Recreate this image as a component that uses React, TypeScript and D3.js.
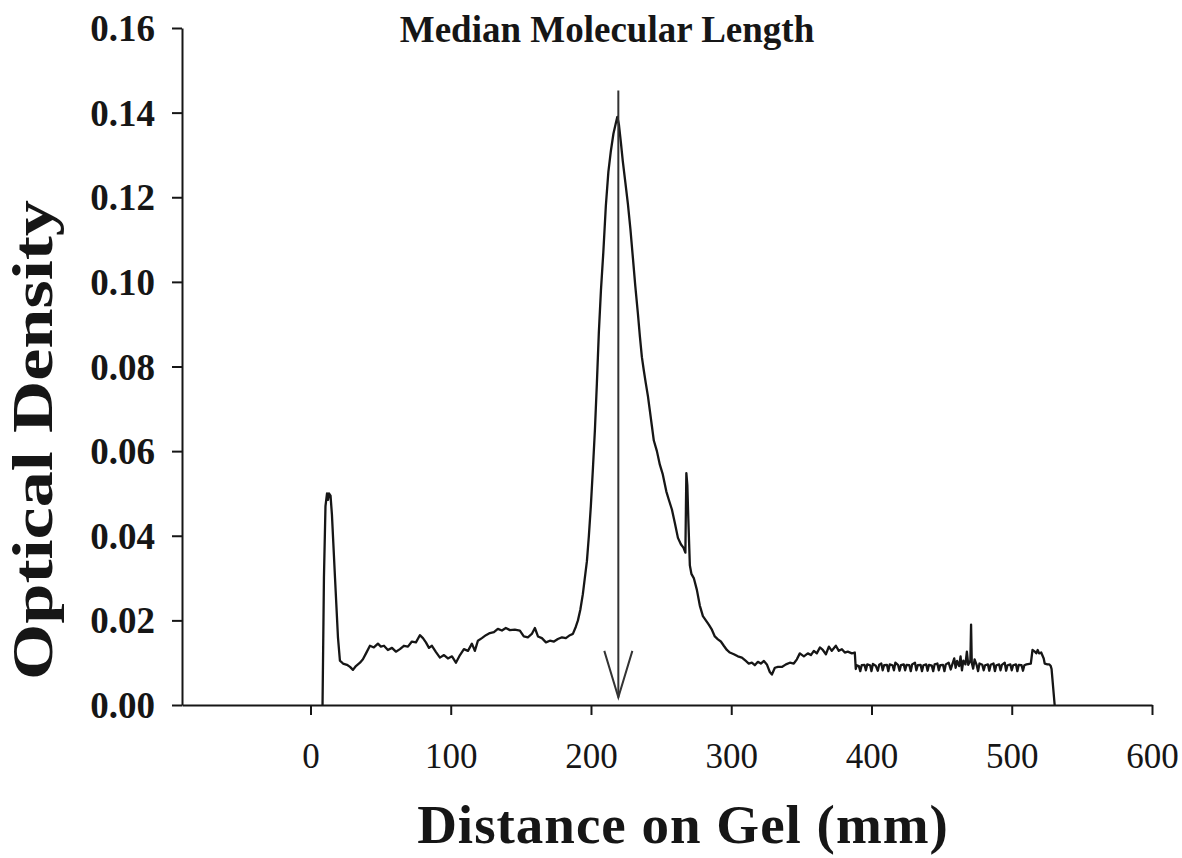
import React, { useEffect, useRef } from "react";
import * as d3 from "d3";

const W = 1182;
const H = 858;

const title = "Median Molecular Length";
const xTitle = "Distance on Gel (mm)";
const yTitle = "Optical Density";

const xTicks = [0, 100, 200, 300, 400, 500, 600];
const yTicks = [0, 0.02, 0.04, 0.06, 0.08, 0.1, 0.12, 0.14, 0.16];

// distance on gel (mm)
const distance = [
  8.6, 9.6, 10.7, 11.8, 12.5, 13.2, 14.3, 15.3, 17.5, 19.6, 21.0, 23.2, 26.0, 28.2, 30.3, 32.4, 35.3, 37.4, 39.6,
  42.4, 45.2, 48.1, 50.2, 52.4, 55.2, 58.1, 60.9, 63.8, 66.6, 69.5, 72.3, 75.2, 78.0, 80.2, 82.3, 84.5, 86.6, 89.5,
  92.3, 95.2, 98.0, 100.9, 103.7, 106.6, 109.4, 112.3, 115.1, 117.2, 119.4, 122.2, 125.1, 127.9, 130.8, 133.6, 136.5,
  139.3, 142.2, 145.7, 149.3, 152.1, 155.0, 157.8, 160.0, 162.2, 165.0, 167.9, 170.7, 173.6, 176.4, 179.3, 182.1,
  185.0, 187.1, 189.2, 190.7, 192.4, 194.2, 195.6, 197.1, 198.5, 199.9, 201.4, 202.8, 204.2, 205.6, 207.1, 208.8,
  210.6, 212.4, 214.2, 216.0, 217.7, 218.8, 219.9, 221.3, 222.7, 224.5, 226.3, 228.1, 229.9, 231.6, 233.4, 234.9,
  236.3, 237.7, 239.1, 240.6, 242.0, 243.4, 244.8, 247.0, 249.1, 251.2, 253.7, 255.5, 257.7, 259.8, 262.0, 264.1,
  265.9, 267.3, 268.0, 268.7, 269.4, 270.5, 271.6, 273.3, 275.5, 277.6, 279.8, 281.9, 284.0, 286.2, 288.3, 290.5,
  292.6, 294.7, 296.9, 299.0, 301.9, 304.7, 307.6, 310.4, 312.5, 314.7, 316.8, 319.0, 321.1, 323.3, 325.4, 327.5,
  329.0, 331.1, 333.3, 336.1, 339.0, 341.8, 344.6, 346.8, 348.9, 351.8, 354.6, 356.8, 358.9, 361.0, 363.2, 365.3,
  367.5, 369.6, 371.7, 374.6, 376.7, 378.9, 381.0, 383.1, 386.0, 388.1, 388.8,
  389.5, 391, 392, 393, 395, 396, 397, 399, 400, 401, 403, 404.5, 405.5, 407, 408, 409, 411, 412, 413, 415, 416, 417,
  419, 420, 421, 423, 424, 425, 427, 428, 429, 431, 432, 433, 435, 436, 437, 439, 440, 441, 443, 444, 445, 447, 448,
  449, 451, 452, 453, 455, 456.5, 457.5, 459, 460, 461, 462.5, 463.5, 464.5, 465.5, 467, 468, 469, 470.5, 471, 471.5,
  472.5, 473.5, 475, 476, 477, 479, 480, 481, 483, 484, 485, 487, 488, 489, 491, 492, 493, 495, 496, 497, 499, 500,
  501, 503, 504, 505, 507, 508, 509, 510.5, 513.6, 514.8, 516.5, 517.5, 518.5, 519.5, 521, 522.8, 523.5, 525.5,
  526.8, 527.8, 528.4, 530.6,
];

// optical density
const density = [
  0, 0.03, 0.047, 0.05, 0.0485, 0.05, 0.0495, 0.045, 0.03, 0.016, 0.0105, 0.0098, 0.0095, 0.009, 0.0083, 0.0092, 0.01,
  0.0108, 0.0122, 0.014, 0.0136, 0.0145, 0.0138, 0.014, 0.013, 0.0135, 0.0126, 0.0132, 0.014, 0.0138, 0.015, 0.0148,
  0.0165, 0.0158, 0.0148, 0.0135, 0.014, 0.0125, 0.0112, 0.0118, 0.011, 0.0115, 0.01, 0.0118, 0.0132, 0.0128, 0.0145,
  0.0128, 0.0152, 0.0158, 0.0165, 0.017, 0.0172, 0.018, 0.0176, 0.0182, 0.0177, 0.0178, 0.0176, 0.0162, 0.016,
  0.0168, 0.0182, 0.0162, 0.0158, 0.0148, 0.0152, 0.015, 0.0156, 0.016, 0.0158, 0.0165, 0.0168, 0.0185, 0.02, 0.0225,
  0.0262, 0.03, 0.034, 0.04, 0.047, 0.056, 0.065, 0.076, 0.088, 0.098, 0.107, 0.118, 0.126, 0.131, 0.135, 0.1375,
  0.139, 0.1372, 0.133, 0.1285, 0.1235, 0.1185, 0.1125, 0.1056, 0.099, 0.0927, 0.087, 0.0822, 0.079, 0.076, 0.073,
  0.0695, 0.066, 0.0625, 0.06, 0.0568, 0.0545, 0.0505, 0.0485, 0.0462, 0.043, 0.0395, 0.038, 0.0372, 0.036, 0.0548,
  0.052, 0.044, 0.033, 0.031, 0.03, 0.0272, 0.0235, 0.021, 0.02, 0.019, 0.0178, 0.0162, 0.0155, 0.015, 0.014, 0.013,
  0.0124, 0.012, 0.0115, 0.0112, 0.0104, 0.0098, 0.01, 0.0094, 0.0102, 0.0098, 0.0104, 0.0096, 0.0078, 0.0072,
  0.0088, 0.009, 0.009, 0.0096, 0.01, 0.0098, 0.0108, 0.0122, 0.0115, 0.0122, 0.0118, 0.0128, 0.0122, 0.0136, 0.013,
  0.012, 0.0138, 0.0128, 0.014, 0.0128, 0.0132, 0.0124, 0.0126, 0.0122, 0.0124, 0.0085,
  0.0094, 0.0092, 0.008, 0.0094, 0.0095, 0.0082, 0.0096, 0.0094, 0.008, 0.0097, 0.0093, 0.0081, 0.0095, 0.0098,
  0.0082, 0.0094, 0.0095, 0.008, 0.0096, 0.0094, 0.0082, 0.01, 0.0094, 0.0081, 0.0094, 0.0096, 0.0082, 0.0095,
  0.0094, 0.008, 0.0096, 0.01, 0.0082, 0.0094, 0.0095, 0.008, 0.0094, 0.0096, 0.0081, 0.0095, 0.0093, 0.008, 0.0096,
  0.0098, 0.0082, 0.0094, 0.0095, 0.008, 0.0096, 0.01, 0.0084, 0.0095, 0.011, 0.0088, 0.0104, 0.0092, 0.0115,
  0.0082, 0.0105, 0.0096, 0.0126, 0.0095, 0.0105, 0.019, 0.01, 0.0086, 0.0108, 0.0094, 0.008, 0.0098, 0.0095,
  0.0082, 0.0094, 0.0096, 0.0081, 0.0095, 0.0098, 0.008, 0.0094, 0.0096, 0.0082, 0.0095, 0.01, 0.0081, 0.0094,
  0.0096, 0.0082, 0.0094, 0.0096, 0.008, 0.0095, 0.0094, 0.0081, 0.0094, 0.0096, 0.0098, 0.013, 0.0126, 0.0122,
  0.013, 0.0122, 0.0124, 0.011, 0.0098, 0.0096, 0.0096, 0.0092, 0.0085, 0,
];

// median marker (arrow)
const medianX = 219.5;
const arrowTop = 0.1452;
const arrowTip = 0.0018;
const arrowWingY = 0.0128;
const arrowWingDx = 10;

export default function App() {
  const ref = useRef<SVGSVGElement | null>(null);

  useEffect(() => {
    const svg = d3.select(ref.current);
    svg.selectAll("*").remove();

    const x = d3.scaleLinear().domain([-91.6, 600]).range([182, 1152]);
    const y = d3.scaleLinear().domain([0, 0.16]).range([705, 28]);

    const font = "'Liberation Serif', 'Times New Roman', serif";
    const ink = "#161616";

    // Y axis
    const gy = svg
      .append("g")
      .attr("transform", `translate(${x(-91.6)},0)`)
      .call(
        d3
          .axisLeft(y)
          .tickValues(yTicks)
          .tickFormat(d3.format(".2f"))
          .tickSize(10)
          .tickSizeOuter(0)
      );
    gy.select(".domain").attr("stroke", ink).attr("stroke-width", 2);
    gy.selectAll(".tick line").attr("stroke", ink).attr("stroke-width", 2);
    gy.selectAll(".tick text")
      .attr("x", -27)
      .attr("dy", "0.34em")
      .attr("fill", ink)
      .style("font-family", font)
      .style("font-weight", "bold")
      .style("font-size", "37px");

    // X axis
    const gx = svg
      .append("g")
      .attr("transform", `translate(0,${y(0)})`)
      .call(
        d3
          .axisBottom(x)
          .tickValues(xTicks)
          .tickFormat(d3.format("d"))
          .tickSize(10)
          .tickSizeOuter(0)
      );
    gx.select(".domain").attr("stroke", ink).attr("stroke-width", 2);
    gx.selectAll(".tick line").attr("stroke", ink).attr("stroke-width", 2);
    gx.selectAll(".tick text")
      .attr("y", 63)
      .attr("dy", 0)
      .attr("fill", ink)
      .style("font-family", font)
      .style("font-weight", "normal")
      .style("font-size", "35px");

    // data line
    const line = d3
      .line<number>()
      .x((_, i) => x(distance[i]))
      .y((d) => y(d));
    svg
      .append("path")
      .attr("d", line(density))
      .attr("fill", "none")
      .attr("stroke", ink)
      .attr("stroke-width", 2.3)
      .attr("stroke-linejoin", "round");

    // median arrow
    const ax = x(medianX);
    svg
      .append("line")
      .attr("x1", ax)
      .attr("x2", ax)
      .attr("y1", y(arrowTop))
      .attr("y2", y(arrowTip))
      .attr("stroke", "#333")
      .attr("stroke-width", 2);
    svg
      .append("path")
      .attr(
        "d",
        `M${x(medianX - arrowWingDx)},${y(arrowWingY)} L${ax},${y(arrowTip)} L${x(medianX + arrowWingDx)},${y(arrowWingY)}`
      )
      .attr("fill", "none")
      .attr("stroke", "#333")
      .attr("stroke-width", 2);

    // titles
    svg
      .append("text")
      .attr("x", 607)
      .attr("y", 42)
      .attr("text-anchor", "middle")
      .attr("fill", ink)
      .style("font-family", font)
      .style("font-weight", "bold")
      .style("font-size", "37px")
      .text(title);

    svg
      .append("text")
      .attr("x", 683)
      .attr("y", 843)
      .attr("text-anchor", "middle")
      .attr("fill", ink)
      .style("font-family", font)
      .style("font-weight", "bold")
      .style("font-size", "55px")
      .style("letter-spacing", "1px")
      .text(xTitle);

    svg
      .append("text")
      .attr("transform", `translate(52,${440}) rotate(-90)`)
      .attr("text-anchor", "middle")
      .attr("fill", ink)
      .attr("textLength", 480)
      .attr("lengthAdjust", "spacingAndGlyphs")
      .style("font-family", font)
      .style("font-weight", "bold")
      .style("font-size", "58px")
      .text(yTitle);
  }, []);

  return (
    <svg
      ref={ref}
      width={W}
      height={H}
      viewBox={`0 0 ${W} ${H}`}
      style={{ position: "absolute", left: 0, top: 0, background: "#fff" }}
    />
  );
}
